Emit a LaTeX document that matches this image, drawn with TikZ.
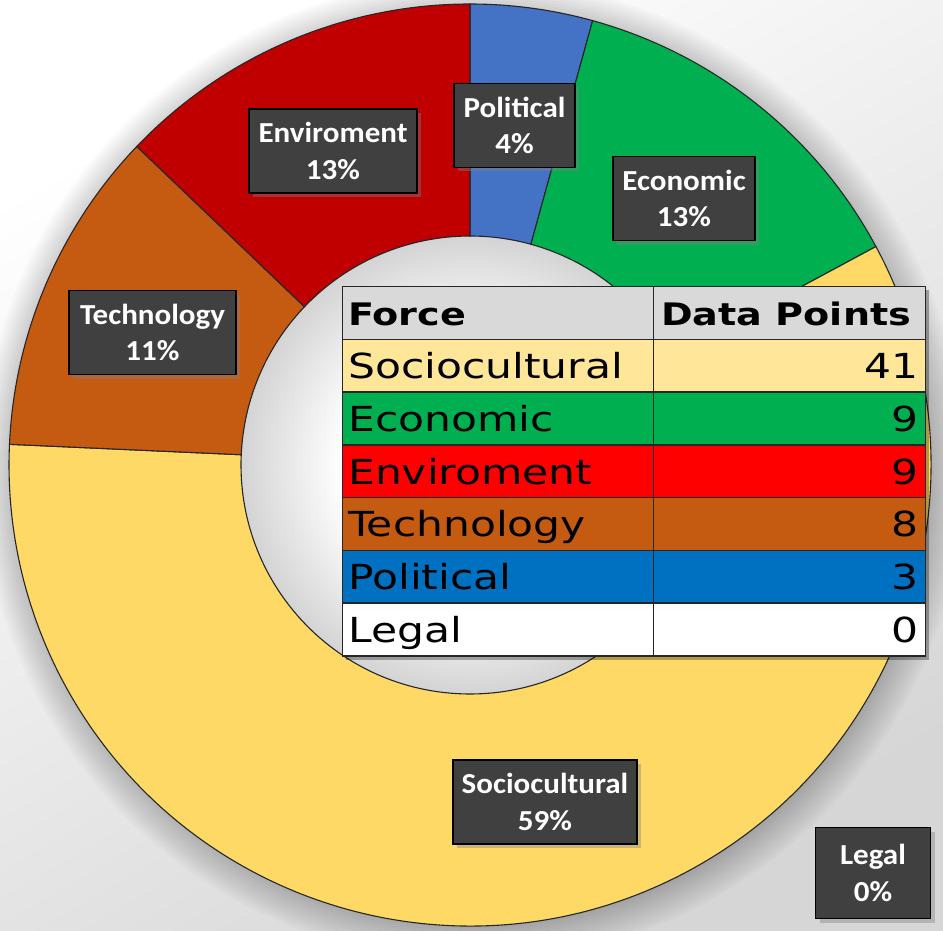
\documentclass[tikz,border=0pt]{standalone}
\usepackage{fontspec}
\newfontfamily\tabfont[FakeStretch=1.23]{DejaVu Sans}
\newfontfamily\lblfont[FakeStretch=1.07]{Carlito}
\usetikzlibrary{shadows}
\definecolor{polC}{HTML}{4472C4}
\definecolor{ecoC}{HTML}{00B050}
\definecolor{socC}{HTML}{FFD966}
\definecolor{tecC}{HTML}{C55A11}
\definecolor{envC}{HTML}{C00000}
\definecolor{hdrT}{HTML}{D9D9D9}
\definecolor{socT}{HTML}{FFE699}
\definecolor{envT}{HTML}{FF0000}
\definecolor{polT}{HTML}{0070C0}
\definecolor{lblC}{HTML}{404040}
\pgfdeclareradialshading{holeshade}{\pgfpointorigin}{color(0bp)=(white); color(14bp)=(white); color(25bp)=(black!17); color(50bp)=(black!17)}
\newcommand{\ringpart}[3]{%
  \filldraw[fill=#1, ringline] (#2:229pt) -- (#2:461pt) arc[start angle=#2, end angle=#3, radius=461pt] -- (#3:229pt) arc[start angle=#3, end angle=#2, radius=229pt] -- cycle;}
\begin{document}
\begin{tikzpicture}[x=1pt, y=1pt,
  ringline/.style={draw=black!85, line width=1.1pt, line join=round},
  lbl/.style={draw=black, line width=1.2pt, fill=lblC, text=white,
    font=\lblfont\bfseries\fontsize{29}{36.7}\selectfont, align=center,
    inner sep=2pt, minimum height=84pt,
    drop shadow={shadow xshift=4pt, shadow yshift=-4pt, opacity=0.4}},
  celltext/.style={font=\tabfont\fontsize{34.5}{40}\selectfont, inner sep=0pt, text=black},
  hdrtext/.style={font=\tabfont\bfseries\fontsize{31}{38}\selectfont, inner sep=0pt, text=black},
  gridline/.style={draw=black!85, line width=1.5pt}]
\useasboundingbox (-470,-465) rectangle (473,465);
% background
\shade[top color=white, bottom color=black!16, shading angle=30] (-470,-465) rectangle (473,465);
% soft shadow of the ring
\foreach \i in {1,...,12} \fill[black, opacity=0.02] (3,-5) circle[radius={(455+3*\i)*1pt}];
% hole
\shade[shading=holeshade] (0,0) circle[radius=229pt];
% slices
\ringpart{polC}{90}{74.5714}
\ringpart{ecoC}{74.5714}{28.2857}
\ringpart{socC}{28.2857}{-182.5714}
\ringpart{tecC}{-182.5714}{-223.7143}
\ringpart{envC}{-223.7143}{-270}
% table
\fill[black, opacity=0.3] (-124,175) rectangle (459,-195);
\fill[hdrT] (-127.3,178.5) rectangle (455.7,{178.5-52.79});
\node[hdrtext, anchor=base west] (hForce) at (-122,{178.5-52.79+13.5}) {Force};
\node[hdrtext, anchor=base west] (hData) at (191,{178.5-52.79+13.5}) {Data Points};
\foreach \clr/\nm/\v [count=\k] in {socT/Sociocultural/41, ecoC/Economic/9, envT/Enviroment/9, tecC/Technology/8, polT/Political/3, white/Legal/0} {
  \fill[\clr] (-127.3,{178.5-\k*52.79}) rectangle (455.7,{178.5-(\k+1)*52.79});
  \node[celltext, anchor=base west] (rn\k) at (-122,{178.5-(\k+1)*52.79+13.5}) {\nm};
  \node[celltext, anchor=base east] (rv\k) at (449,{178.5-(\k+1)*52.79+13.5}) {\v};
}
\foreach \k in {1,...,6} \draw[gridline] (-127.3,{178.5-\k*52.79}) -- (455.7,{178.5-\k*52.79});
\draw[gridline] (183.3,178.5) -- (183.3,{178.5-7*52.79});
\draw[gridline] (-127.3,178.5) rectangle (455.7,{178.5-7*52.79});
% labels
\node[lbl, minimum width=121pt] (lPol) at (44.5,339.5) {Political\\4\%};
\node[lbl, minimum width=142pt] (lEco) at (214,266.5) {Economic\\13\%};
\node[lbl, minimum width=168pt] (lEnv) at (-137,314) {Enviroment\\13\%};
\node[lbl, minimum width=167pt] (lTec) at (-317.5,132.5) {Technology\\11\%};
\node[lbl, minimum width=184pt] (lSoc) at (75,-337) {Sociocultural\\59\%};
\node[lbl, minimum width=115pt, minimum height=91pt] (lLeg) at (403,-408) {Legal\\0\%};
\end{tikzpicture}
\end{document}
